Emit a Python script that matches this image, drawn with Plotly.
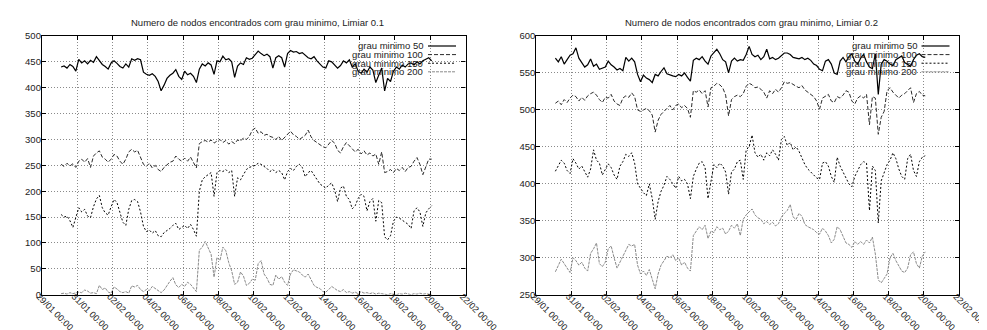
import pandas as pd
import plotly.graph_objects as go

# time axis: every 4 hours from 30/01 02:00 to 20/02 02:00
times = pd.date_range("2009-01-30 02:00", periods=127, freq="4h")

series_names = ["grau minimo 50", "grau minimo 100", "grau minimo 150", "grau minimo 200"]
titles = ["Numero de nodos encontrados com grau minimo, Limiar 0.1",
          "Numero de nodos encontrados com grau minimo, Limiar 0.2"]
tick_start = "2009-01-29"
tick_end = "2009-02-22"

# ---- Limiar 0.1 ----
l1_g50 = [440, 442, 438, 445, 441, 432, 455, 448, 452, 446, 453, 449, 460, 452, 445, 441, 436, 448, 452, 447,
          441, 438, 446, 440, 456, 453, 456, 454, 430, 426, 424, 427, 422, 412, 394, 405, 418, 424, 428, 435,
          422, 416, 432, 425, 428, 422, 410, 436, 446, 442, 448, 444, 426, 452, 450, 461, 454, 456, 450, 420,
          442, 448, 445, 458, 455, 457, 464, 471, 466, 462, 465, 460, 438, 458, 462, 458, 440, 466, 472, 469,
          470, 466, 468, 462, 458, 456, 460, 452, 446, 440, 438, 452, 450, 444, 438, 443, 452, 448, 454, 440,
          446, 432, 428, 436, 430, 440, 434, 410, 425, 438, 394, 418, 412, 432, 440, 436, 444, 440, 446, 448,
          444, 450, 446, 452, 455, 458, 452]
l1_g100 = [252, 248, 254, 249, 253, 246, 258, 262, 256, 263, 246, 268, 274, 278, 266, 262, 256, 262, 271, 268,
           258, 252, 262, 276, 281, 276, 279, 266, 252, 248, 254, 245, 250, 242, 238, 246, 252, 256, 258, 268,
           262, 258, 264, 258, 266, 256, 245, 292, 296, 298, 295, 299, 293, 297, 300, 294, 298, 291, 296, 292,
           299, 297, 303, 300, 306, 318, 322, 312, 315, 308, 310, 306, 304, 300, 306, 298, 304, 310, 316, 309,
           306, 300, 304, 308, 318, 305, 298, 294, 290, 286, 284, 290, 298, 293, 279, 274, 286, 294, 288, 282,
           276, 281, 272, 278, 270, 274, 268, 272, 252, 276, 236, 238, 242, 236, 244, 240, 246, 238, 246, 248,
           258, 265, 252, 232, 248, 262, 262]
l1_g150 = [155, 150, 152, 143, 130, 148, 168, 160, 165, 152, 149, 170, 185, 192, 168, 158, 154, 170, 184, 178,
           160, 140, 134, 165, 182, 184, 180, 160, 132, 122, 125, 119, 124, 114, 112, 120, 124, 128, 134, 138,
           126, 130, 134, 128, 136, 126, 113, 200, 222, 228, 232, 236, 190, 236, 240, 238, 242, 236, 240, 190,
           226, 222, 232, 242, 246, 248, 250, 254, 252, 248, 244, 238, 242, 236, 240, 236, 222, 238, 244, 240,
           248, 252, 246, 228, 236, 240, 232, 222, 214, 210, 206, 212, 216, 202, 180, 206, 210, 190, 184, 166,
           172, 186, 194, 190, 162, 180, 186, 142, 182, 178, 112, 106, 114, 142, 150, 148, 144, 140, 136, 128,
           162, 168, 160, 132, 158, 166, 172]
l1_g200 = [2, 3, 1, 4, 2, 3, 5, 4, 9, 7, 3, 4, 2, 18, 10, 13, 5, 3, 15, 11,
           6, 4, 6, 3, 17, 15, 18, 10, 6, 10, 8, 16, 12, 7, 4, 9, 18, 26, 33, 19,
           14, 20, 16, 24, 20, 12, 6, 86, 92, 103, 90, 78, 34, 72, 66, 92, 85, 62, 46, 20,
           24, 44, 36, 18, 22, 30, 28, 60, 66, 40, 32, 20, 18, 38, 30, 35, 24, 18, 40, 48,
           46, 44, 38, 34, 40, 30, 18, 14, 12, 6, 5, 10, 16, 12, 8, 6, 10, 4, 6, 3,
           5, 2, 6, 3, 4, 2, 4, 1, 3, 2, 1, 0, 2, 1, 0, 2, 1, 3, 1, 0,
           2, 1, 3, 1, 2, 1, 0]

# ---- Limiar 0.2 ----
l2_g50 = [570, 565, 572, 562, 568, 574, 576, 584, 570, 563, 558, 561, 569, 559, 562, 555, 556, 558, 566, 561,
          558, 554, 556, 553, 571, 566, 570, 565, 548, 538, 547, 543, 541, 537, 548, 546, 552, 557, 549, 547,
          546, 545, 548, 546, 550, 544, 539, 567, 570, 568, 572, 566, 562, 573, 578, 582, 576, 568, 565, 550,
          566, 570, 566, 568, 567, 575, 586, 575, 572, 574, 568, 572, 582, 569, 571, 568, 570, 573, 577, 577,
          575, 571, 570, 569, 571, 568, 570, 567, 562, 560, 555, 553, 566, 568, 562, 550, 548, 566, 571, 565,
          572, 576, 566, 562, 570, 575, 565, 558, 556, 576, 521, 562, 568, 566, 562, 560, 568, 571, 573, 564,
          561, 559, 568, 574, 576, 572, 571]
l2_g100 = [509, 512, 507, 514, 510, 516, 520, 518, 512, 517, 513, 519, 522, 524, 520, 514, 510, 517, 516, 521,
           512, 508, 506, 516, 519, 517, 523, 518, 500, 498, 500, 502, 499, 493, 470, 486, 494, 498, 502, 506,
           500, 506, 508, 503, 506, 502, 490, 526, 524, 527, 522, 526, 504, 530, 532, 536, 534, 530, 520, 492,
           514, 518, 520, 518, 522, 532, 536, 534, 530, 531, 528, 524, 516, 526, 522, 528, 524, 530, 538, 536,
           537, 534, 532, 530, 533, 527, 524, 520, 518, 512, 501, 516, 518, 521, 512, 510, 518, 516, 520, 526,
           524, 512, 508, 516, 519, 516, 521, 480, 518, 516, 467, 490, 498, 526, 530, 524, 520, 516, 520, 522,
           526, 530, 510, 522, 525, 520, 519]
l2_g150 = [417, 424, 432, 428, 418, 414, 434, 428, 420, 424, 416, 409, 420, 446, 432, 428, 412, 420, 427, 422,
           412, 406, 424, 430, 440, 437, 442, 428, 400, 394, 388, 384, 400, 380, 352, 376, 390, 398, 410, 406,
           400, 394, 410, 404, 406, 400, 380, 410, 420, 428, 430, 422, 380, 404, 426, 422, 428, 424, 416, 386,
           416, 420, 430, 432, 406, 446, 450, 466, 442, 436, 440, 432, 442, 438, 446, 440, 432, 460, 464, 452,
           456, 446, 450, 444, 434, 426, 420, 416, 412, 408, 406, 428, 430, 424, 410, 402, 436, 424, 416, 408,
           400, 396, 410, 418, 426, 430, 428, 364, 424, 418, 347, 404, 414, 426, 432, 442, 434, 420, 410, 406,
           434, 440, 418, 410, 430, 436, 438]
l2_g200 = [281, 289, 298, 292, 286, 280, 300, 296, 290, 294, 286, 282, 306, 312, 320, 292, 288, 294, 312, 316,
           300, 286, 294, 302, 312, 318, 316, 318, 290, 278, 282, 276, 284, 270, 258, 278, 290, 296, 302, 300,
           304, 296, 300, 290, 294, 286, 282, 330, 336, 342, 338, 344, 326, 336, 334, 342, 338, 340, 332, 336,
           344, 340, 346, 330, 352, 358, 362, 366, 358, 354, 352, 346, 349, 345, 348, 343, 346, 355, 360, 364,
           372, 355, 352, 360, 356, 345, 342, 340, 338, 334, 332, 340, 336, 330, 320, 325, 342, 338, 328, 320,
           318, 314, 322, 318, 322, 318, 324, 320, 328, 305, 270, 266, 272, 278, 300, 306, 296, 288, 282, 280,
           286, 304, 308, 292, 286, 302, 308]

panels = [
    dict(series=[l1_g50, l1_g100, l1_g150, l1_g200], yrange=[0, 500]),
    dict(series=[l2_g50, l2_g100, l2_g150, l2_g200], yrange=[250, 600]),
]

styles = [
    dict(color="#000000", width=1.2, dash="solid"),
    dict(color="#2a2a2a", width=1.0, dash="4px,2px"),
    dict(color="#000000", width=1.0, dash="2px,2px"),
    dict(color="#8a8a8a", width=1.0, dash="3px,1px"),
]

W, H = 987, 330
plot_boxes = [(34, 457.5), (528.3, 951)]
y_top, y_bot = 28, 286.7

fig = go.Figure()
FONT = "Liberation Sans, Arial, sans-serif"
FS = 9.5

for p, panel in enumerate(panels):
    xa = "x" if p == 0 else "x2"
    ya = "y" if p == 0 else "y2"
    for s, vals in enumerate(panel["series"]):
        st = styles[s]
        fig.add_trace(go.Scatter(x=times, y=vals, mode="lines", name=series_names[s],
                                 xaxis=xa, yaxis=ya, showlegend=False,
                                 line=dict(color=st["color"], width=st["width"], dash=st["dash"])))

layout = dict(
    width=W, height=H, margin=dict(l=0, r=0, t=0, b=0),
    paper_bgcolor="white", plot_bgcolor="white",
    font=dict(family=FONT, size=FS, color="#222"),
    showlegend=False,
)

axis_common = dict(
    showline=True, linecolor="#000", linewidth=1.3, mirror="ticks",
    ticks="inside", ticklen=4, tickcolor="#000", tickwidth=1,
    showgrid=True, gridcolor="#8a8a8a", griddash="1px,2px", gridwidth=1,
    zeroline=False, automargin=False,
    tickfont=dict(family=FONT, size=FS, color="#222"),
)

for p, panel in enumerate(panels):
    x0, x1 = plot_boxes[p]
    xdom = [x0 / W, x1 / W]
    ydom = [1 - y_bot / H, 1 - y_top / H]
    xkey = "xaxis" if p == 0 else "xaxis2"
    ykey = "yaxis" if p == 0 else "yaxis2"
    layout[xkey] = dict(axis_common, domain=xdom, type="date",
                        range=[tick_start, tick_end], tick0=tick_start, dtick=2 * 86400000,
                        tickformat="%d/%m %H:%M", tickangle=45,
                        ticklabelstandoff=-8, ticklabelshift=-3,
                        tickfont=dict(family=FONT, size=9, color="#222"),
                        anchor="y" if p == 0 else "y2")
    layout[ykey] = dict(axis_common, domain=ydom, range=panel["yrange"], dtick=50,
                        ticklabelstandoff=-2,
                        anchor="x" if p == 0 else "x2")

fig.update_layout(**layout)

# titles and legends
for p in range(2):
    x0, x1 = plot_boxes[p]
    fig.add_annotation(text=titles[p], xref="paper", yref="paper",
                       x=((x0 + x1) / 2 + 4) / W, y=1 - 15 / H, showarrow=False,
                       xanchor="center", yanchor="middle",
                       font=dict(family=FONT, size=FS, color="#222"))
    text_end = x1 - 40.5
    samp0, samp1 = x1 - 37.5, x1 - 9.5
    for s in range(4):
        yy = 38 + 8.6 * s
        fig.add_annotation(text=series_names[s], xref="paper", yref="paper",
                           x=text_end / W, y=1 - yy / H, showarrow=False,
                           xanchor="right", yanchor="middle",
                           font=dict(family=FONT, size=FS, color="#222"))
        st = styles[s]
        fig.add_shape(type="line", xref="paper", yref="paper",
                      x0=samp0 / W, x1=samp1 / W, y0=1 - yy / H, y1=1 - yy / H,
                      line=dict(color=st["color"], width=st["width"], dash=st["dash"]))

fig.write_html("out.html")
